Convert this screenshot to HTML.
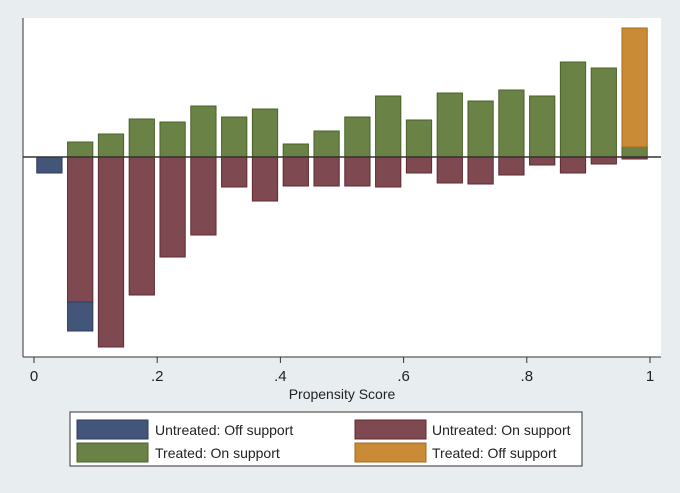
<!DOCTYPE html>
<html><head><meta charset="utf-8"><style>
body{margin:0;background:#e8eef0;}
svg{display:block;font-family:"Liberation Sans",sans-serif;}
</style></head><body>
<svg id="c" width="680" height="493">
<rect x="0" y="0" width="680" height="493" fill="#e8eef0"/>
<rect x="23" y="18" width="638" height="339" fill="#ffffff"/>
<g id="bars"></g>
<line x1="23" y1="157" x2="661" y2="157" stroke="#333" stroke-width="1.5"/>
<line x1="23" y1="18" x2="23" y2="357" stroke="#333" stroke-width="1"/>
<line x1="23" y1="357" x2="661" y2="357" stroke="#333" stroke-width="1"/>
<g id="ticks"></g>
<text x="342" y="399" font-size="14" text-anchor="middle" fill="#222">Propensity Score</text>
<g>
<rect x="70" y="412" width="512" height="54" fill="#fff" stroke="#333" stroke-width="1"/>
<rect x="77" y="420" width="71" height="19" fill="#44557a" stroke="#2c3a5e"/>
<text x="155" y="435" font-size="14" fill="#222">Untreated: Off support</text>
<rect x="355" y="420" width="71" height="19" fill="#7e4950" stroke="#5e2a30"/>
<text x="432" y="435" font-size="14" fill="#222">Untreated: On support</text>
<rect x="77" y="443" width="71" height="19" fill="#6a8245" stroke="#4a6228"/>
<text x="155" y="458" font-size="14" fill="#222">Treated: On support</text>
<rect x="355" y="443" width="71" height="19" fill="#c98b35" stroke="#a86a1a"/>
<text x="432" y="458" font-size="14" fill="#222">Treated: Off support</text>
</g>
</svg>
<script>
const binCenters=[0.025,0.075,0.125,0.175,0.225,0.275,0.325,0.375,0.425,0.475,0.525,0.575,0.625,0.675,0.725,0.775,0.825,0.875,0.925,0.975];
const treatedOn=[0,15,23,38,35,51,40,48,13,26,40,61,37,64,56,67,61,95,89,10];
const treatedOff=[0,0,0,0,0,0,0,0,0,0,0,0,0,0,0,0,0,0,0,119];
const untreatedOn=[0,145,190,138,100,78,30,44,29,29,29,30,16,26,27,18,8,16,7,2];
const untreatedOff=[16,29,0,0,0,0,0,0,0,0,0,0,0,0,0,0,0,0,0,0];
const tickValues=[0,0.2,0.4,0.6,0.8,1];
const tickLabels=["0",".2",".4",".6",".8","1"];
const NS="http://www.w3.org/2000/svg";
const xs=v=>34+v*616;
const ys=v=>157-v;
const bw=0.041*616;
const g=document.getElementById('bars');
function bar(cx,v0,v1,fill,stroke,name){
  if(v1===v0)return;
  const r=document.createElementNS(NS,'rect');
  const y0=Math.min(ys(v0),ys(v1)),h=Math.abs(ys(v0)-ys(v1));
  r.setAttribute('x',xs(cx)-bw/2);r.setAttribute('y',y0);
  r.setAttribute('width',bw);r.setAttribute('height',h);
  r.setAttribute('fill',fill);r.setAttribute('stroke',stroke);r.setAttribute('stroke-width','1');
  
  
  g.appendChild(r);
}
binCenters.forEach((c,i)=>{
  bar(c,0,treatedOn[i],'#6a8245','#4a6228','bar-treated-on');
  bar(c,treatedOn[i],treatedOn[i]+treatedOff[i],'#c98b35','#a86a1a','bar-treated-off');
  bar(c,0,-untreatedOn[i],'#7e4950','#5e2a30','bar-untreated-on');
  bar(c,-untreatedOn[i],-untreatedOn[i]-untreatedOff[i],'#44557a','#2c3a5e','bar-untreated-off');
});
const tg=document.getElementById('ticks');
tickValues.forEach((t,i)=>{
  const l=document.createElementNS(NS,'line');
  l.setAttribute('x1',xs(t));l.setAttribute('x2',xs(t));l.setAttribute('y1',357);l.setAttribute('y2',363);
  l.setAttribute('stroke','#333');
  
  
  tg.appendChild(l);
  const tx=document.createElementNS(NS,'text');
  tx.setAttribute('x',xs(t));tx.setAttribute('y',381);tx.setAttribute('font-size','15');
  tx.setAttribute('text-anchor','middle');tx.setAttribute('fill','#222');
  tx.textContent=tickLabels[i];
  
  
  tg.appendChild(tx);
});
</script>
</body></html>
